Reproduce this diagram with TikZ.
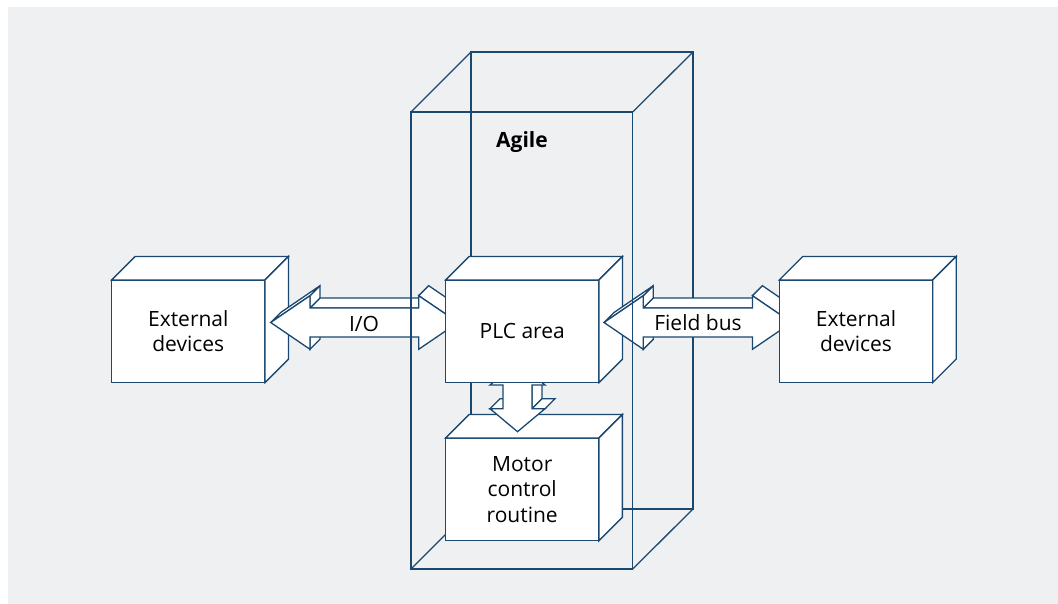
\documentclass[tikz,border=0pt]{standalone}
\usepackage{fontspec}
\setmainfont{Open Sans}

\definecolor{agileblue}{RGB}{26,72,112}
\definecolor{panelgray}{RGB}{239,240,242}

\tikzset{
  wire/.style={draw=agileblue, line width=1.3pt, line join=miter},
  face/.style={wire, fill=white},
  box/.style={face, rectangle, minimum width=153.3pt, minimum height=102.7pt,
    inner sep=0pt, outer sep=0pt, align=center},
}

% top and side face of a box node
\newcommand{\cubefaces}[2]{%
  \draw[face] (#1.north west) -- ++(#2,-#2) -- ([shift={(#2,-#2)}]#1.north east) -- (#1.north east) -- cycle;
  \draw[face] (#1.north east) -- ([shift={(#2,-#2)}]#1.north east) -- ([shift={(#2,-#2)}]#1.south east) -- (#1.south east) -- cycle;
}

% block arrow sizes
\def\adep{10}
\def\ahlen{39.3}\def\ahwid{26.8}\def\ashaft{14.5}
\def\vhlen{23}\def\vhwid{27.5}\def\vshaft{14.5}

% horizontal double block arrow, #1 west tip, #2 east tip
\newcommand{\hbiarrow}[2]{%
  % left head base, lower part
  \draw[face] ([shift={(\ahlen,\ashaft)}]#1) -- ([shift={(\ahlen,\ahwid)}]#1) -- ++(\adep,-\adep) -- ([shift={(\ahlen+\adep,\ashaft-\adep)}]#1) -- cycle;
  % shaft top
  \draw[face] ([shift={(\ahlen,-\ashaft)}]#1) -- ([shift={(-\ahlen,-\ashaft)}]#2) -- ++(\adep,-\adep) -- ([shift={(\ahlen+\adep,-\ashaft-\adep)}]#1) -- cycle;
  % left head base, upper part
  \draw[face] ([shift={(\ahlen,-\ashaft)}]#1) -- ([shift={(\ahlen,-\ahwid)}]#1) -- ++(\adep,-\adep) -- ([shift={(\ahlen+\adep,-\ashaft-\adep)}]#1) -- cycle;
  % upper slants
  \draw[face] (#1) -- ([shift={(\ahlen,-\ahwid)}]#1) -- ++(\adep,-\adep) -- ([shift={(\adep,-\adep)}]#1) -- cycle;
  \draw[face] ([shift={(-\ahlen,-\ahwid)}]#2) -- (#2) -- ++(\adep,-\adep) -- ([shift={(\adep-\ahlen,-\ahwid-\adep)}]#2) -- cycle;
  % front
  \draw[face] (#1) -- ([shift={(\ahlen,-\ahwid)}]#1) -- ([shift={(\ahlen,-\ashaft)}]#1)
    -- ([shift={(-\ahlen,-\ashaft)}]#2) -- ([shift={(-\ahlen,-\ahwid)}]#2) -- (#2)
    -- ([shift={(-\ahlen,\ahwid)}]#2) -- ([shift={(-\ahlen,\ashaft)}]#2)
    -- ([shift={(\ahlen,\ashaft)}]#1) -- ([shift={(\ahlen,\ahwid)}]#1) -- cycle;
}

% vertical double block arrow, #1 north tip, #2 south tip
\newcommand{\vbiarrow}[2]{%
  % shaft, right side
  \draw[face] ([shift={(\vshaft,\vhlen)}]#1) -- ([shift={(\vshaft,-\vhlen)}]#2) -- ++(\adep,-\adep) -- ([shift={(\vshaft+\adep,\vhlen-\adep)}]#1) -- cycle;
  % lower head base
  \draw[face] ([shift={(\vshaft,-\vhlen)}]#2) -- ([shift={(\vhwid,-\vhlen)}]#2) -- ++(\adep,-\adep) -- ([shift={(\vshaft+\adep,-\vhlen-\adep)}]#2) -- cycle;
  \draw[face] ([shift={(-\vhwid,-\vhlen)}]#2) -- ([shift={(-\vshaft,-\vhlen)}]#2) -- ++(\adep,-\adep) -- ([shift={(\adep-\vhwid,-\vhlen-\adep)}]#2) -- cycle;
  % front
  \draw[face] (#1) -- ([shift={(\vhwid,\vhlen)}]#1) -- ([shift={(\vshaft,\vhlen)}]#1)
    -- ([shift={(\vshaft,-\vhlen)}]#2) -- ([shift={(\vhwid,-\vhlen)}]#2) -- (#2)
    -- ([shift={(-\vhwid,-\vhlen)}]#2) -- ([shift={(-\vshaft,-\vhlen)}]#2)
    -- ([shift={(-\vshaft,\vhlen)}]#1) -- ([shift={(-\vhwid,\vhlen)}]#1) -- cycle;
}

\begin{document}
\begin{tikzpicture}[x=1pt, y=-1pt, font=\fontsize{21pt}{25.4pt}\selectfont]
  % canvas
  \useasboundingbox (0,0) rectangle (1058,604);
  \fill[white] (0,0) rectangle (1058,604);
  \fill[panelgray] (8,7) rectangle (1058,604);

  % Agile cabinet, back edges
  \draw[wire] (471,52) rectangle (693,509);
  \draw[wire] (411,112) -- (471,52) (693,52) -- (632.7,112);
  \draw[wire] (411,569) -- (471,509) (693,509) -- (632.7,569);

  % external devices, left
  \node[box] (extL) at (188.3,331.3) {External\\devices};
  \cubefaces{extL}{23.5}

  % motor control routine
  \node[box] (motor) at (522.2,489.4) {Motor\\control\\routine};
  \cubefaces{motor}{23.5}

  % arrow tips
  \coordinate (io-w) at (270.7,322.5);
  \coordinate (io-e) at (458,322.5);
  \coordinate (bus-w) at (604,322.5);
  \coordinate (bus-e) at (791.7,322.5);
  \coordinate (mc-n) at (517.5,362);
  \coordinate (mc-s) at (517.5,431.7);

  \hbiarrow{io-w}{io-e}
  \vbiarrow{mc-n}{mc-s}

  % PLC area
  \node[box] (plc) at (522.3,331.3) {PLC area};
  \cubefaces{plc}{23.5}

  \hbiarrow{bus-w}{bus-e}

  % external devices, right
  \node[box] (extR) at (856,331.3) {External\\devices};
  \cubefaces{extR}{23.5}

  % Agile cabinet, front face
  \draw[wire] (411,112) rectangle (632.7,569);

  % labels
  \node[anchor=base, font=\fontsize{21pt}{25.4pt}\selectfont\bfseries] (agile) at (522,147.3) {Agile};
  \node[anchor=base] (io) at (364,331.7) {I/O};
  \node[anchor=base] (bus) at (698,330.7) {Field bus};
\end{tikzpicture}
\end{document}
